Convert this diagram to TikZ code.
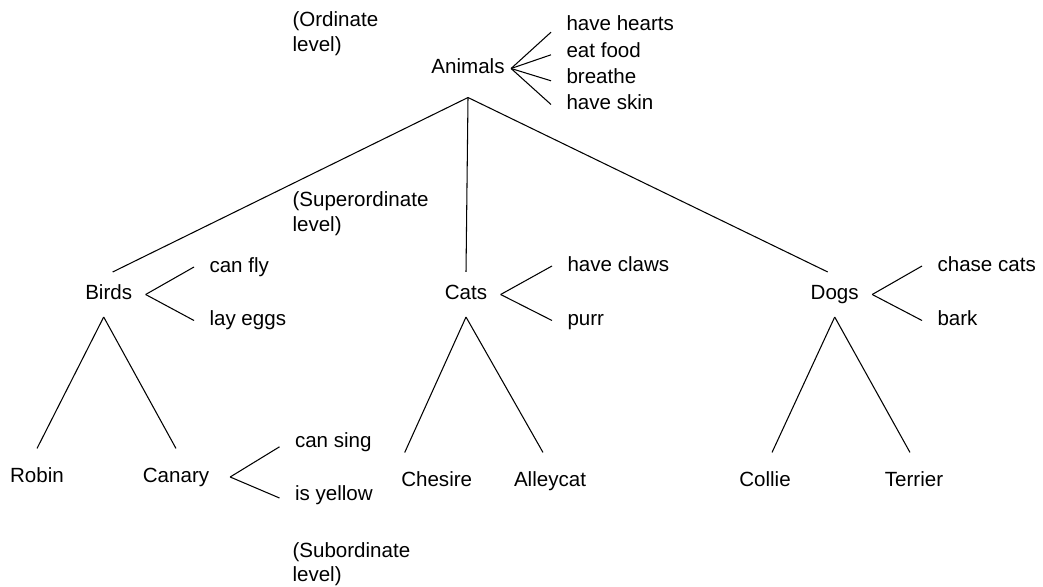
\documentclass[tikz,border=0pt]{standalone}
\usepackage{fontspec}
\setmainfont{Liberation Sans}

\begin{document}
\begin{tikzpicture}[
  x=0.02cm, y=-0.02cm,
  line width=0.6pt,
  every node/.style={font=\fontsize{11.7pt}{14pt}\selectfont, inner sep=0pt},
  word/.style={text height=0.3cm, text depth=0.08cm},
  cat/.style={word, minimum height=0.88cm, inner xsep=0.26cm},
  leaf/.style={word, minimum height=1.12cm},
  prop/.style={word, anchor=west, inner xsep=0.3cm},
  level/.style={anchor=north west, align=left},
]
\useasboundingbox (0,0) rectangle (1043,587);

%% LEVEL LABELS
\node[level] (ordinate)      at (292,11)    {(Ordinate\\level)};
\node[level] (superordinate) at (292,191)   {(Superordinate\\level)};
\node[level] (subordinate)   at (292,541.7) {(Subordinate\\level)};

%% TOP
\node[cat, minimum height=1.14cm, inner xsep=0.12cm] (animals) at (468,68.5) {Animals};
\node[prop] (hearts)  at (551,25.2)  {have hearts};
\node[prop] (eat)     at (551,51.8)  {eat food};
\node[prop] (breathe) at (551,77.8)  {breathe};
\node[prop] (skin)    at (551,104.5) {have skin};

%% MIDDLE ROW
\node[cat] (birds) at (108.7,294.5) {Birds};
\node[cat] (cats)  at (466,294.5)   {Cats};
\node[cat] (dogs)  at (834.7,294.5) {Dogs};

\node[prop] (canfly)  at (194,267)   {can fly};
\node[prop] (layeggs) at (194,320.5) {lay eggs};
\node[prop] (claws)   at (552,266)   {have claws};
\node[prop] (purr)    at (552,320.5) {purr};
\node[prop] (chase)   at (922,266)   {chase cats};
\node[prop] (bark)    at (922,320.5) {bark};

%% BOTTOM ROW
\node[leaf] (robin)                     at (37,477)    {Robin};
\node[leaf, inner xsep=0.41cm] (canary) at (176,477)   {Canary};
\node[leaf] (chesire)                   at (436.7,481) {Chesire};
\node[leaf] (alleycat)                  at (550,481)   {Alleycat};
\node[leaf] (collie)                    at (765,481)   {Collie};
\node[leaf] (terrier)                   at (914,481)   {Terrier};

\node[prop] (cansing) at (279.5,441.8) {can sing};
\node[prop] (yellow)  at (279.5,494.5) {is yellow};

%% Tree
\draw (animals.south) -- ([xshift=0.08cm]birds.north);
\draw (animals.south) -- (cats.north);
\draw (animals.south) -- ([xshift=-0.14cm]dogs.north);

\draw ([xshift=-0.1cm]birds.south) -- (robin.north);
\draw ([xshift=-0.1cm]birds.south) -- (canary.north);
\draw (cats.south) -- ([xshift=-0.64cm]chesire.north);
\draw (cats.south) -- ([xshift=-0.14cm]alleycat.north);
\draw (dogs.south) -- ([xshift=0.14cm]collie.north);
\draw (dogs.south) -- ([xshift=-0.08cm]terrier.north);

%% Properties
\draw (animals.east) -- ([yshift=-0.14cm]hearts.west);
\draw (animals.east) -- ([yshift=-0.06cm]eat.west);
\draw (animals.east) -- ([yshift=-0.06cm]breathe.west);
\draw (animals.east) -- (skin.west);

\draw (birds.east) -- (canfly.west);
\draw (birds.east) -- (layeggs.west);
\draw (cats.east)  -- (claws.west);
\draw (cats.east)  -- (purr.west);
\draw (dogs.east)  -- (chase.west);
\draw (dogs.east)  -- (bark.west);

\draw (canary.east) -- ([yshift=-0.1cm]cansing.west);
\draw (canary.east) -- ([yshift=-0.07cm]yellow.west);

\end{tikzpicture}
\end{document}
